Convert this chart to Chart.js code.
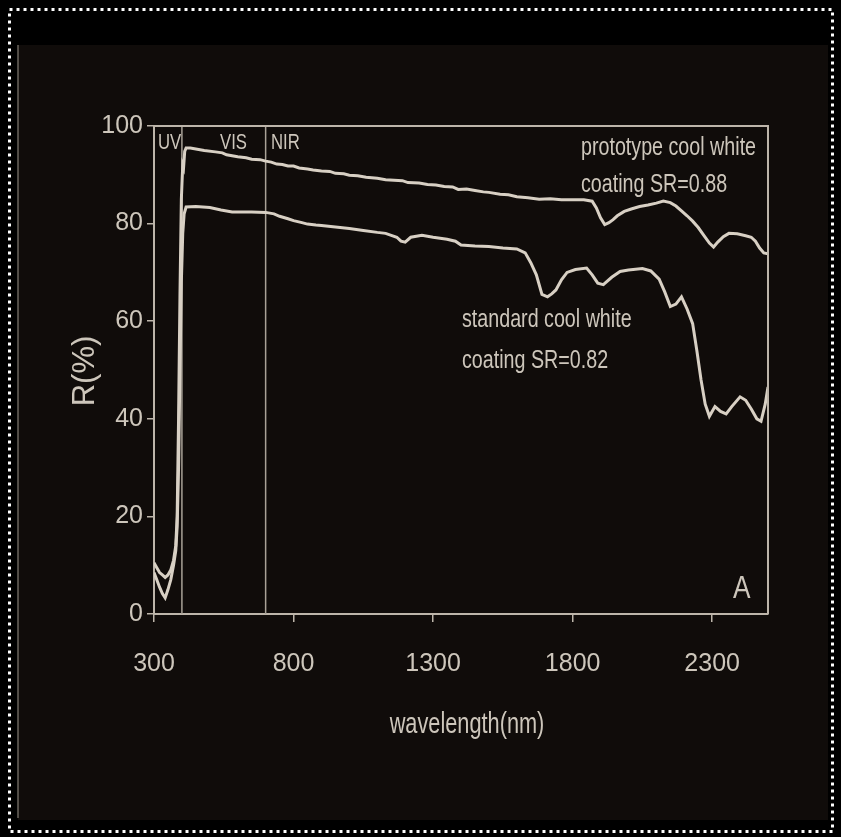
<!DOCTYPE html>
<html>
<head>
<meta charset="utf-8">
<script src="https://cdn.jsdelivr.net/npm/chart.js@4.4.1/dist/chart.umd.min.js"></script>
<style>
  html, body { margin: 0; padding: 0; background: #000; }
  #wrap { position: relative; width: 841px; height: 837px; }
</style>
</head>
<body>
<div id="wrap"><canvas id="spectrum" width="841" height="837"></canvas></div>
<script>
// wavelength (nm) and reflectance (%)
const protoNm = [300, 310, 320, 330, 340, 350, 360, 370, 378, 383, 388, 393, 398, 403, 406, 410, 415, 430, 450, 480, 520, 545, 560, 600, 630, 650, 680, 700, 720, 740, 760, 780, 800, 820, 850, 870, 900, 930, 950, 980, 1000, 1030, 1060, 1100, 1130, 1160, 1190, 1210, 1250, 1280, 1310, 1340, 1370, 1390, 1420, 1450, 1480, 1500, 1540, 1570, 1600, 1640, 1680, 1720, 1760, 1800, 1840, 1870, 1885, 1900, 1915, 1930, 1945, 1960, 1985, 2010, 2040, 2070, 2100, 2125, 2150, 2170, 2190, 2210, 2230, 2250, 2270, 2290, 2305, 2320, 2340, 2360, 2390, 2420, 2440, 2455, 2470, 2485, 2500];
const protoR = [10.5, 9.5, 8.5, 8, 7.5, 8, 9, 11, 14, 20, 40, 65, 85, 92, 91.5, 94.8, 95.5, 95.5, 95.3, 95.0, 94.7, 94.5, 94.1, 93.7, 93.5, 93.2, 93.1, 92.8, 92.6, 92.2, 92.1, 91.8, 91.8, 91.4, 91.2, 91.0, 90.8, 90.7, 90.3, 90.2, 89.9, 89.8, 89.5, 89.3, 89.0, 88.9, 88.8, 88.4, 88.3, 88.0, 87.9, 87.6, 87.5, 87.0, 87.1, 86.8, 86.5, 86.4, 86.0, 85.9, 85.5, 85.3, 85.0, 85.1, 84.9, 84.9, 84.9, 84.6, 83.2, 81.2, 79.8, 80.2, 80.8, 81.6, 82.5, 83.0, 83.5, 83.8, 84.2, 84.6, 84.3, 83.6, 82.6, 81.6, 80.5, 79.2, 77.6, 76.0, 75.2, 76.2, 77.3, 78.0, 77.9, 77.5, 77.2, 76.4, 75.0, 74.0, 73.8];

const stdNm = [300, 310, 320, 330, 340, 350, 360, 370, 378, 383, 388, 393, 398, 403, 408, 415, 450, 500, 540, 580, 650, 700, 730, 750, 780, 800, 830, 850, 880, 900, 950, 1000, 1050, 1100, 1130, 1150, 1170, 1185, 1200, 1220, 1260, 1300, 1350, 1380, 1400, 1450, 1500, 1550, 1600, 1630, 1650, 1670, 1690, 1710, 1725, 1740, 1760, 1780, 1810, 1850, 1870, 1890, 1910, 1940, 1970, 2000, 2050, 2080, 2110, 2130, 2150, 2170, 2190, 2210, 2230, 2245, 2260, 2275, 2290, 2310, 2330, 2350, 2370, 2400, 2420, 2440, 2460, 2475, 2490, 2500];
const stdR = [8.5, 7, 5.5, 4.2, 3.3, 5, 7, 10, 13, 18, 30, 50, 68, 78, 82, 83.4, 83.5, 83.3, 82.8, 82.4, 82.4, 82.3, 82.0, 81.5, 81.0, 80.6, 80.2, 79.9, 79.7, 79.6, 79.3, 79.0, 78.6, 78.2, 78.0, 77.6, 77.2, 76.4, 76.2, 77.2, 77.6, 77.2, 76.8, 76.4, 75.6, 75.4, 75.3, 75.0, 74.8, 74.0, 72.0, 69.5, 65.5, 65.0, 65.6, 66.4, 68.5, 70.0, 70.6, 70.9, 69.5, 67.8, 67.5, 69.0, 70.2, 70.5, 70.8, 70.3, 68.6, 66.0, 63.0, 63.5, 65.0, 62.5, 59.5, 54.0, 48.0, 43.0, 40.5, 42.5, 41.5, 41.0, 42.5, 44.5, 43.8, 42.0, 40.0, 39.5, 43.0, 46.5];

// UV / VIS / NIR boundaries
const bandNm = [400, 700];
const xTicks = [300, 800, 1300, 1800, 2300];
const yTicks = [0, 20, 40, 60, 80, 100];

const lineColor = '#d8d0c4';
const axisColor = '#bdb5aa';
const textColor = '#cdc6bb';
const sans = '"Liberation Sans", Arial, sans-serif';

const toPoints = (xs, ys) => xs.map((x, i) => ({ x: x, y: ys[i] }));

const bandSets = bandNm.map(nm => ({
  data: [{ x: nm, y: 0 }, { x: nm, y: 100 }],
  borderColor: '#a9a297',
  borderWidth: 1.5,
  pointRadius: 0
}));

// condensed text, the figure uses a narrow face
function narrowText(ctx, text, x, y, size, squeeze, align) {
  ctx.save();
  ctx.font = size + 'px ' + sans;
  ctx.textAlign = align || 'left';
  ctx.translate(x, y);
  ctx.scale(squeeze, 1);
  ctx.fillText(text, 0, 0);
  ctx.restore();
}

const backdrop = {
  id: 'backdrop',
  beforeDraw(chart) {
    const ctx = chart.ctx;
    ctx.save();
    ctx.fillStyle = '#000';
    ctx.fillRect(0, 0, chart.width, chart.height);
    ctx.fillStyle = '#100c0a';
    ctx.fillRect(18, 45, 810, 775);
    ctx.strokeStyle = '#6a645e';
    ctx.lineWidth = 1.5;
    ctx.beginPath();
    ctx.moveTo(18, 45);
    ctx.lineTo(18, 818);
    ctx.stroke();
    ctx.strokeStyle = '#fff';
    ctx.lineWidth = 3;
    ctx.setLineDash([3, 4]);
    ctx.strokeRect(9.5, 9.5, 823, 822);
    ctx.restore();
  }
};

const frameAndText = {
  id: 'frameAndText',
  afterDraw(chart) {
    const ctx = chart.ctx;
    const a = chart.chartArea;
    ctx.save();
    ctx.strokeStyle = axisColor;
    ctx.lineWidth = 2;
    ctx.beginPath();
    ctx.moveTo(a.left, a.top);
    ctx.lineTo(a.right, a.top);
    ctx.lineTo(a.right, a.bottom);
    ctx.stroke();

    ctx.fillStyle = textColor;
    ctx.textBaseline = 'alphabetic';
    narrowText(ctx, 'UV', 158, 149, 22, 0.76);
    narrowText(ctx, 'VIS', 220, 149, 22, 0.76);
    narrowText(ctx, 'NIR', 271, 149, 22, 0.76);

    narrowText(ctx, 'prototype cool white', 581, 155, 26, 0.757);
    narrowText(ctx, 'coating SR=0.88', 581, 192, 26, 0.757);
    narrowText(ctx, 'standard cool white', 462, 327, 26, 0.757);
    narrowText(ctx, 'coating SR=0.82', 462, 368, 26, 0.757);

    narrowText(ctx, 'A', 733, 598, 32, 0.82);
    narrowText(ctx, 'wavelength(nm)', 467, 733, 29, 0.75, 'center');

    ctx.translate(85, 371);
    ctx.rotate(-Math.PI / 2);
    ctx.textBaseline = 'middle';
    ctx.textAlign = 'center';
    ctx.font = '31px ' + sans;
    ctx.fillText('R(%)', 0, 0);
    ctx.restore();
  }
};

new Chart(document.getElementById('spectrum'), {
  type: 'line',
  data: {
    datasets: [
      {
        label: 'prototype cool white coating',
        data: toPoints(protoNm, protoR),
        borderColor: lineColor,
        borderWidth: 3,
        pointRadius: 0
      },
      {
        label: 'standard cool white coating',
        data: toPoints(stdNm, stdR),
        borderColor: lineColor,
        borderWidth: 3,
        pointRadius: 0
      },
      ...bandSets
    ]
  },
  options: {
    responsive: false,
    animation: false,
    events: [],
    layout: { padding: { left: 0, top: 126, right: 73, bottom: 0 } },
    plugins: { legend: { display: false }, tooltip: { enabled: false } },
    scales: {
      x: {
        type: 'linear',
        min: 300,
        max: 2500,
        afterBuildTicks: s => { s.ticks = xTicks.map(v => ({ value: v })); },
        afterFit: s => { s.height = 223; },
        grid: { drawOnChartArea: false, tickLength: 8, color: axisColor, lineWidth: 1.5 },
        border: { display: true, color: axisColor, width: 2 },
        ticks: { color: textColor, font: { family: sans, size: 25 }, padding: 27, maxRotation: 0, callback: v => String(v) }
      },
      y: {
        min: 0,
        max: 100,
        afterBuildTicks: s => { s.ticks = yTicks.map(v => ({ value: v })); },
        afterFit: s => { s.width = 154; },
        grid: { drawOnChartArea: false, tickLength: 7, color: axisColor, lineWidth: 1.5 },
        border: { display: true, color: axisColor, width: 2 },
        ticks: { color: textColor, font: { family: sans, size: 25 }, padding: 4 }
      }
    }
  },
  plugins: [backdrop, frameAndText]
});
</script>
</body>
</html>
